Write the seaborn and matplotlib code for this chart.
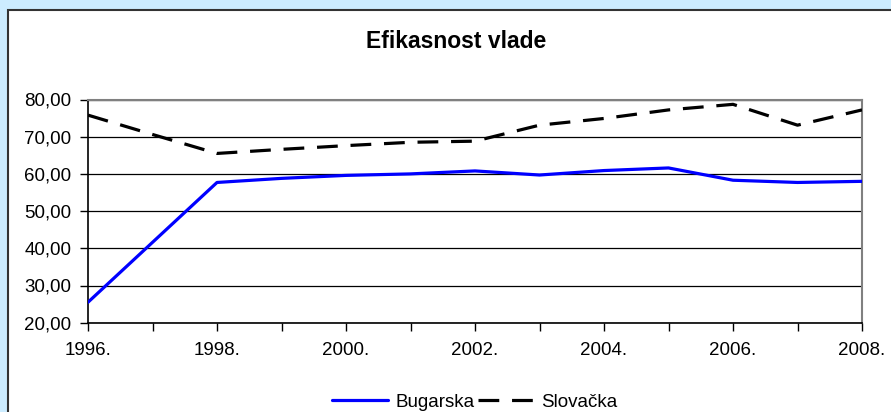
import pandas as pd
import seaborn as sns
import matplotlib.pyplot as plt
from matplotlib.patches import Rectangle
from matplotlib.ticker import FuncFormatter, MultipleLocator

years = [1996, 1997, 1998, 1999, 2000, 2001, 2002, 2003, 2004, 2005, 2006, 2007, 2008]
bugarska = [25.5, 41.6, 57.7, 58.8, 59.6, 60.0, 60.8, 59.7, 60.9, 61.6, 58.3, 57.7, 58.0]
slovacka = [75.8, 70.6, 65.5, 66.6, 67.6, 68.5, 68.8, 73.1, 74.9, 77.2, 78.7, 73.1, 77.2]

df = pd.DataFrame({"year": years, "Bugarska": bugarska, "Slovačka": slovacka})

sns.set_style("white")
plt.rcParams["font.family"] = ["Liberation Sans", "DejaVu Sans"]
plt.rcParams["text.color"] = "black"
plt.rcParams["xtick.color"] = "black"
plt.rcParams["ytick.color"] = "black"

fig = plt.figure(figsize=(8.91, 4.12), dpi=100, facecolor="#CCECFF")
# white chart area with dark border, kept behind the axes
fig.patches.append(Rectangle((8 / 891, -0.05), 1.0, 1 - 10 / 412 + 0.05,
                             transform=fig.transFigure, facecolor="white",
                             edgecolor="#333333", linewidth=1.5, zorder=-10))

ax = fig.add_axes([88 / 891, 1 - 322.7 / 412, (862 - 88) / 891, (322.7 - 99.5) / 412])
ax.set_zorder(5)
ax.set_facecolor("white")

sns.lineplot(x="year", y="Bugarska", data=df, ax=ax, color="#0000FF", linewidth=2.3,
             label="Bugarska", zorder=3)
sns.lineplot(x="year", y="Slovačka", data=df, ax=ax, color="black", linewidth=2.3,
             label="Slovačka", zorder=3)
ax.lines[1].set_dashes((6.5, 4))

ax.set_xlim(1996, 2008)
ax.set_ylim(20, 80)
ax.yaxis.set_major_locator(MultipleLocator(10))
ax.yaxis.set_major_formatter(FuncFormatter(lambda v, p: f"{v:.2f}".replace(".", ",")))
ax.xaxis.set_major_locator(MultipleLocator(2))
ax.xaxis.set_minor_locator(MultipleLocator(1))
ax.xaxis.set_major_formatter(FuncFormatter(lambda v, p: f"{int(v)}."))

ax.grid(axis="y", color="black", linewidth=0.9)
ax.grid(axis="x", visible=False)
for side in ["top", "right"]:
    ax.spines[side].set_color("#808080")
    ax.spines[side].set_linewidth(1.5)
for side in ["left", "bottom"]:
    ax.spines[side].set_color("black")
    ax.spines[side].set_linewidth(1.2)

ax.tick_params(axis="both", which="both", direction="out", length=5.5, width=1,
               color="black", labelcolor="black", labelsize=13.5, bottom=True, left=True)
ax.tick_params(axis="x", which="both", pad=8.5)
ax.tick_params(axis="y", pad=6.5)
ax.set_xlabel("")
ax.set_ylabel("")

fig.text(456 / 891, 1 - 41.7 / 412, "Efikasnost vlade", ha="center", va="center",
         fontsize=16.5, fontweight="bold", color="black")

handles, labels = ax.get_legend_handles_labels()
ax.get_legend().remove()
handles[1].set_dashes((6.5, 4))
fig.legend(handles, labels, loc="center", bbox_to_anchor=(475 / 891, 1 - 402 / 412),
           ncol=2, frameon=False, fontsize=13.5, handlelength=3.0,
           handletextpad=0.4, columnspacing=0.15, borderpad=0)

plt.savefig("out.png", dpi=100, facecolor=fig.get_facecolor())
